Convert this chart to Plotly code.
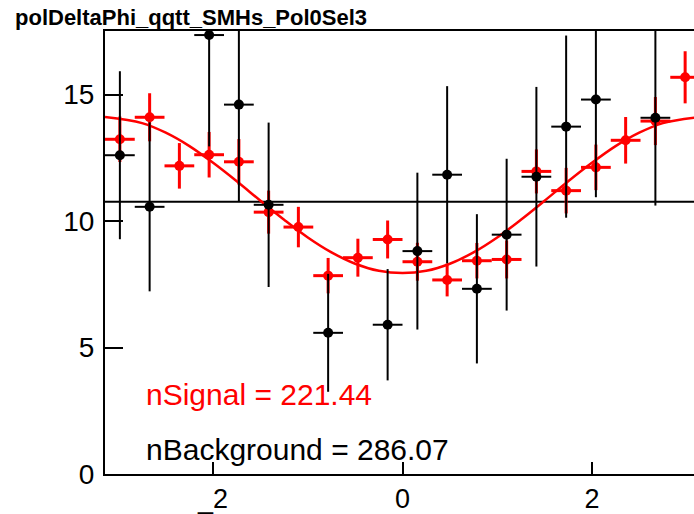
import numpy as np
import plotly.graph_objects as go

# Binning: 20 bins over [-pi, pi]
N_BINS = 20
X_LO, X_HI = -np.pi, np.pi
bin_width = (X_HI - X_LO) / N_BINS
bin_centers = X_LO + bin_width * (np.arange(N_BINS) + 0.5)

# Signal histogram (red)
signal_vals = [13.23, 14.10, 12.18, 12.62, 12.34, 10.35, 9.76, 7.84, 8.55, 9.27,
               8.39, 7.67, 8.43, 8.48, 11.96, 11.20, 12.12, 13.19, 13.95, 15.68]
signal_errs = [0.90, 0.95, 0.90, 0.90, 0.90, 0.85, 0.80, 0.70, 0.75, 0.75,
               0.75, 0.65, 0.70, 0.75, 0.87, 0.90, 0.90, 0.92, 0.95, 1.03]

# Background histogram (black); empty bins are not drawn
background_vals = [12.60, 10.56, None, 17.35, 14.60, 10.64, None, 5.58, None, 5.90,
                   8.81, 11.83, 7.32, 9.46, 11.75, 13.73, 14.80, None, 14.08, None]
background_errs = [3.32, 3.34, None, 4.40, 3.85, 3.25, None, 2.33, None, 2.20,
                   3.10, 3.50, 2.95, 3.00, 3.55, 3.60, 3.86, None, 3.47, None]

# Fitted signal shape, sampled along delta phi
fit_x = [-3.1416, -2.75, -2.5, -2.25, -2.0, -1.75, -1.5, -1.25, -1.0, -0.75, -0.5, -0.25, 0.0,
         0.25, 0.5, 0.75, 1.0, 1.25, 1.5, 1.75, 2.0, 2.25, 2.5, 2.75, 3.1416]
fit_y = [14.11, 13.87, 13.49, 12.96, 12.30, 11.57, 10.80, 10.05, 9.35, 8.76, 8.31, 8.03, 7.94,
         8.03, 8.31, 8.76, 9.35, 10.05, 10.80, 11.57, 12.30, 12.96, 13.49, 13.87, 14.11]

# Flat background fit level
background_level = 10.76

n_signal = 221.44
n_background = 286.07

x_tick_vals = [-2, 0, 2]
x_tick_text = ["_2", "0", "2"]
y_tick_vals = [0, 5, 10, 15]

FONT = "Liberation Sans, Arial, sans-serif"

fig = go.Figure()

fig.add_trace(go.Scatter(
    x=[X_LO, X_HI], y=[background_level, background_level],
    mode="lines", line=dict(color="black", width=2), hoverinfo="skip"))

fig.add_trace(go.Scatter(
    x=fit_x, y=fit_y, mode="lines", line=dict(color="#ff0000", width=2.5, shape="spline"),
    hoverinfo="skip"))

fig.add_trace(go.Scatter(
    x=bin_centers, y=signal_vals, mode="markers",
    marker=dict(color="#ff0000", size=10, symbol="circle"),
    error_y=dict(type="data", array=signal_errs, color="#ff0000", thickness=3, width=0),
    error_x=dict(type="constant", value=bin_width / 2, color="#ff0000", thickness=3, width=0)))

fig.add_trace(go.Scatter(
    x=bin_centers, y=background_vals, mode="markers",
    marker=dict(color="black", size=10, symbol="circle"),
    error_y=dict(type="data", array=background_errs, color="black", thickness=2, width=0),
    error_x=dict(type="constant", value=bin_width / 2, color="black", thickness=2, width=0)))

L, R, T, B = 105, 0, 31, 37
W, H = 694, 514
plot_w = W - L - R
plot_h = H - T - B


def px_to_paper(px, py):
    return (px - L) / plot_w, (H - B - py) / plot_h


ax, ay = px_to_paper(144, 397)
fig.add_annotation(x=ax, y=ay, xref="paper", yref="paper", xanchor="left", yanchor="middle",
                   text=f"nSignal = {n_signal:.2f}", showarrow=False,
                   font=dict(family=FONT, size=30, color="#ff0000"))
bx, by = px_to_paper(144, 452)
fig.add_annotation(x=bx, y=by, xref="paper", yref="paper", xanchor="left", yanchor="middle",
                   text=f"nBackground = {n_background:.2f}", showarrow=False,
                   font=dict(family=FONT, size=30, color="black"))

fig.update_layout(
    width=W, height=H,
    margin=dict(l=L, r=R, t=T, b=B, pad=0),
    paper_bgcolor="white", plot_bgcolor="white",
    showlegend=False,
    title=dict(text="<b>polDeltaPhi_qqtt_SMHs_Pol0Sel3</b>", xref="container", yref="container",
               x=15 / W, y=1 - 17 / H, xanchor="left", yanchor="middle",
               font=dict(family=FONT, size=22, color="black")),
    font=dict(family=FONT, color="black"),
)

fig.update_xaxes(
    range=[X_LO, X_LO + plot_w / 94.7], showgrid=False, zeroline=False,
    showline=True, linecolor="black", linewidth=2, mirror=True,
    ticks="inside", ticklen=12, tickwidth=2, tickcolor="black",
    tickvals=x_tick_vals, ticktext=x_tick_text,
    tickfont=dict(family=FONT, size=27, color="black"))

fig.update_yaxes(
    range=[0, 17.51], showgrid=False, zeroline=False,
    showline=True, linecolor="black", linewidth=2, mirror=False,
    ticks="inside", ticklen=18, tickwidth=2, tickcolor="black",
    tickvals=y_tick_vals, ticklabelstandoff=3,
    tickfont=dict(family=FONT, size=28, color="black"))

fig.write_html("out.html")
